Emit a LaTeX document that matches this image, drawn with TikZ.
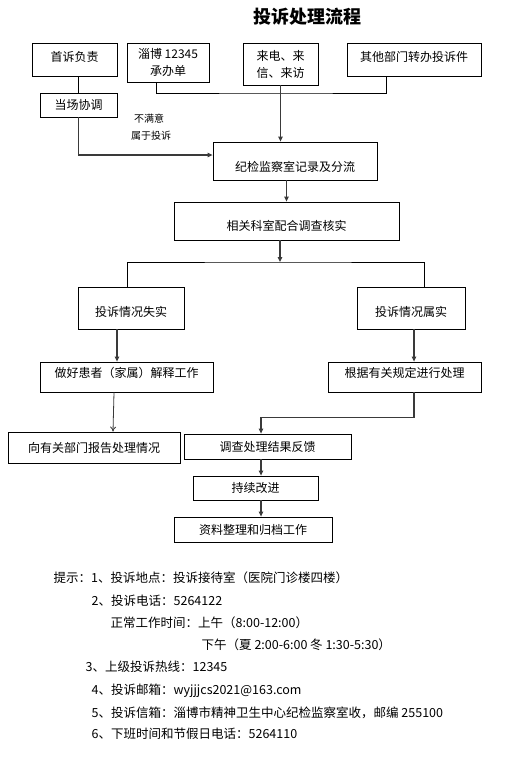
\documentclass[tikz,border=0pt]{standalone}
\usepackage{fontspec}
\setmainfont{Noto Sans CJK SC}
\usetikzlibrary{arrows.meta, calc}
\definecolor{cline}{HTML}{3A3A3A}
% shift the text inside a box without moving the box
\newcommand{\shifttext}[2]{\raisebox{#1}[\height][\depth]{#2}}
\tikzset{
  every picture/.style={line width=0.8pt},
  box/.style={draw=black, align=center, inner sep=2pt, font=\fontsize{12}{17}\selectfont},
  arrow/.style={-{Triangle[length=5pt, width=4.5pt]}, draw=cline, line width=1.1pt},
  link/.style={draw=black, line width=0.8pt},
  title/.style={font=\bfseries\fontsize{18}{20}\selectfont},
  note/.style={font=\fontsize{10}{12}\selectfont},
  tip/.style={anchor=west, font=\fontsize{12.5}{14}\selectfont},
}

\begin{document}
\begin{tikzpicture}[x=1pt, y=-1pt]
  \useasboundingbox (0,0) rectangle (519,758);
  \node[title] (head) at (307.5, 17) {投诉处理流程};
  % sources
  \node[box, minimum width=85pt, minimum height=33pt] (first) at (74.5, 59.5) {\shifttext{3pt}{首诉负责}};
  \node[box, minimum width=82pt, minimum height=39pt] (hotline) at (168, 62.5) {淄博 12345\\承办单};
  \node[box, minimum width=75pt, minimum height=42pt] (visit) at (280.5, 64) {来电、来\\信、来访};
  \node[box, minimum width=134pt, minimum height=33pt] (other) at (414, 59.5) {\shifttext{3pt}{其他部门转办投诉件}};
  \node[box, minimum width=77pt, minimum height=24pt] (onsite) at (78.5, 105) {当场协调};
  \node[note] (n1) at (149, 119) {不满意};
  \node[note] (n2) at (151, 136) {属于投诉};
  % main flow
  \node[box, minimum width=164pt, minimum height=38pt] (record) at (295, 161) {\shifttext{-6pt}{纪检监察室记录及分流}};
  \node[box, minimum width=225pt, minimum height=38pt] (verify) at (286.5, 221) {\shifttext{-5pt}{相关科室配合调查核实}};
  \node[box, minimum width=106pt, minimum height=42pt] (false) at (131, 308) {\shifttext{-4pt}{投诉情况失实}};
  \node[box, minimum width=108pt, minimum height=42pt] (true) at (411, 308) {\shifttext{-4pt}{投诉情况属实}};
  \node[box, minimum width=173pt, minimum height=30pt] (explain) at (126.5, 377) {\shifttext{4pt}{做好患者（家属）解释工作}};
  \node[box, minimum width=153pt, minimum height=30pt] (handle) at (404.5, 377) {\shifttext{4pt}{根据有关规定进行处理}};
  \node[box, minimum width=172pt, minimum height=31pt] (report) at (94, 447.5) {向有关部门报告处理情况};
  \node[box, minimum width=167pt, minimum height=25pt] (feedback) at (267.5, 446.5) {调查处理结果反馈};
  \node[box, minimum width=125pt, minimum height=24pt] (improve) at (255.5, 488) {持续改进};
  \node[box, minimum width=158pt, minimum height=25pt] (archive) at (253, 529.5) {资料整理和归档工作};
  \coordinate (join) at (280.5, 93);
  \coordinate (split) at (280, 262);
  % connectors
  \draw[link] (onsite.north |- first.south) -- (onsite.north);
  \draw[arrow] (onsite.south) |- ([yshift=6pt]record.west);
  \draw[link] ([xshift=-12pt]hotline.south) |- (join) -| ([xshift=-28pt]other.south);
  \draw[arrow] (visit.south) -- (visit.south |- record.north);
  \draw[arrow] (verify.north |- record.south) -- (verify.north);
  \draw[arrow] ([xshift=-6.5pt]verify.south) -- (split);
  \draw[link] ([xshift=-4pt]false.north) |- (split) -| ([xshift=13pt]true.north);
  \draw[arrow] ([xshift=-14pt]false.south) -- ([xshift=-14pt]false.south |- explain.north);
  \draw[arrow] ([xshift=3pt]true.south) -- ([xshift=3pt]true.south |- handle.north);
  \draw[-{To[length=5pt, width=6pt]}, draw=cline, line width=0.8pt] ([xshift=-12.5pt]explain.south) -- ([xshift=19pt]report.north);
  \draw[arrow] ([xshift=9.5pt]handle.south) -- ++(0,25) -| ([xshift=-6.5pt]feedback.north);
  \draw[arrow] ([xshift=-6.5pt]feedback.south) -- ([xshift=-6.5pt]feedback.south |- improve.north);
  \draw[arrow] ([xshift=5.5pt]improve.south) -- ([xshift=5.5pt]improve.south |- archive.north);
  % notes below
  \foreach \x/\y/\t [count=\i] in {50/578/{提示：1、投诉地点：投诉接待室（医院门诊楼四楼）},
      88/601/{2、投诉电话：5264122},
      107/623/{正常工作时间：上午（8:00-12:00）},
      198/645/{下午（夏 2:00-6:00 冬 1:30-5:30）},
      82/667/{3、上级投诉热线：12345},
      88/691/{4、投诉邮箱：wyjjjcs2021@163.com},
      88/713/{5、投诉信箱：淄博市精神卫生中心纪检监察室收，邮编 255100},
      88/734/{6、下班时间和节假日电话：5264110}}
    \node[tip] (tip\i) at (\x, \y) {\t};
\end{tikzpicture}
\end{document}
